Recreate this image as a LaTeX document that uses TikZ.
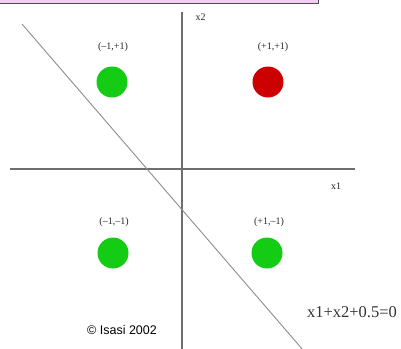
\documentclass[tikz,border=0pt]{standalone}
\usepackage{fontspec}
\setmainfont{Liberation Serif}
\setsansfont{Liberation Sans}
\usepackage{xcolor}
\definecolor{ptgreen}{RGB}{20,204,20}
\definecolor{ptred}{RGB}{204,0,0}
\definecolor{axisgray}{RGB}{110,110,110}
\definecolor{boxpink}{RGB}{242,208,242}

\begin{document}
\begin{tikzpicture}[x=1pt,y=-1pt,
    pt/.style={circle, inner sep=0pt, minimum size=31pt},
    lbl/.style={font=\fontsize{10}{11}\selectfont, text=black!85}]
    \useasboundingbox (0,0) rectangle (401,348);

    % Frame strip at top
    \draw[black!70, fill=boxpink, line width=0.8pt] (-2,-6) rectangle (318,3);

    % Axes
    \draw[axisgray, line width=1.4pt] (182,12) -- (182,350);
    \draw[axisgray, line width=1.4pt] (10,169) -- (355,169);
    \node[lbl, anchor=west] (x2) at (192,17) {x2};
    \node[lbl] (x1) at (336,186) {x1};

    % Separating line
    \draw[black!45, line width=0.9pt] (22,24) -- (303,350);
    \node[font=\fontsize{16.5}{18}\selectfont, text=black!80] (eq) at (352,312) {x1+x2+0.5=0};

    % Points
    \node[pt, fill=ptgreen] (mp) at (112,82) {};
    \node[pt, fill=ptred] (pp) at (268,82) {};
    \node[pt, fill=ptgreen] (mm) at (113,253) {};
    \node[pt, fill=ptgreen] (pm) at (267,253) {};

    % Labels
    \node[lbl] (lmp) at (113,47) {(–1,+1)};
    \node[lbl] (lpp) at (273,47) {(+1,+1)};
    \node[lbl] (lmm) at (114,222) {(–1,–1)};
    \node[lbl] (lpm) at (269,222) {(+1,–1)};

    \node[font=\sffamily\fontsize{12.5}{14}\selectfont] (cr) at (122,330) {\textcopyright{} Isasi 2002};
\end{tikzpicture}
\end{document}
